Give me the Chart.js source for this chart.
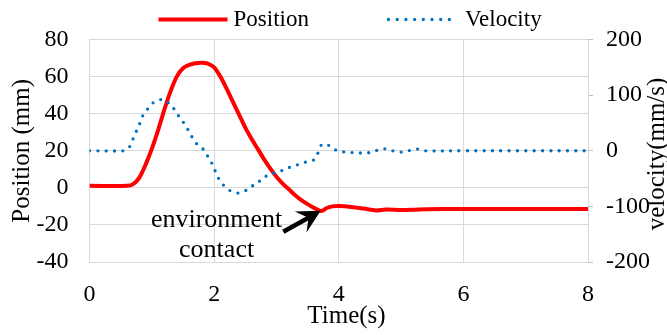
<!DOCTYPE html>
<html>
<head>
<meta charset="utf-8">
<script src="https://cdn.jsdelivr.net/npm/chart.js@4.4.1/dist/chart.umd.min.js"></script>
<style>
  html, body { margin: 0; padding: 0; background: #fff; }
  #wrap { width: 667px; height: 335px; position: relative; }
</style>
</head>
<body>
<div id="wrap"><canvas id="c"></canvas></div>
<script>
// Position of the end effector (mm) against time (s)
const positionTime = [0, 0.6, 0.7, 0.8, 0.9, 1.0, 1.1, 1.2, 1.3, 1.4, 1.5, 1.6, 1.7, 1.8, 1.9, 2.0, 2.1, 2.2, 2.3, 2.4, 2.5, 2.6, 2.7, 2.8, 2.9, 3.0, 3.1, 3.2, 3.3, 3.4, 3.5, 3.6, 3.7, 3.75, 3.8, 3.9, 4.0, 4.2, 4.4, 4.6, 4.75, 4.9, 5.0, 5.2, 5.4, 6.0, 7.0, 8.0];
const positionMm   = [1.1, 1.1, 2.0, 5.5, 12.5, 21, 31, 42, 52, 60, 64.5, 66.3, 67.2, 67.5, 67, 65, 60, 53.5, 46.5, 39.5, 32.5, 26.5, 21, 15.5, 10.5, 6, 2.3, -0.8, -4, -6.6, -8.8, -10.8, -12.4, -12.2, -11, -10, -9.8, -10.3, -11.2, -12.2, -11.7, -11.8, -12, -11.8, -11.5, -11.4, -11.4, -11.4];

// Velocity (mm/s) against time (s)
const velocityTime = [0, 0.55, 0.61, 0.65, 0.70, 0.755, 0.81, 0.86, 0.94, 1.03, 1.16, 1.28, 1.37, 1.44, 1.52, 1.59, 1.66, 1.74, 1.84, 1.91, 1.98, 2.03, 2.09, 2.17, 2.26, 2.37, 2.48, 2.58, 2.68, 2.75, 2.86, 2.97, 3.1, 3.23, 3.36, 3.48, 3.61, 3.67, 3.73, 3.81, 3.92, 4.06, 4.19, 4.33, 4.46, 4.59, 4.72, 4.86, 4.98, 5.12, 5.25, 5.38, 6.0, 7.0, 8.0];
const velocityMms   = [0, 0, 3, 8.5, 21.6, 36, 50, 64, 76, 87, 92, 85, 73, 61, 49, 36, 22, 10, 1, -12.6, -26, -40, -53, -64, -72, -76, -73, -66, -58, -53, -44, -40, -35, -29, -24.5, -20, -15.6, -3, 11.5, 11.5, 3, -1.8, -3, -4, -4, 0, 3.6, 0, -2.4, 0, 3, 0, 0, 0, 0];

const timeTicks = [0, 2, 4, 6, 8];
const positionTicks = [-40, -20, 0, 20, 40, 60, 80];
const velocityTicks = [-200, -100, 0, 100, 200];

const seriesNames = ['Position', 'Velocity'];
const axisTitles = { x: 'Time(s)', y: 'Position (mm)', y1: 'velocity(mm/s)' };
const noteLines = ['environment', 'contact'];

const FONT = 'Liberation Serif';
const RED = '#FF0000';
const BLUE = '#0070C0';
const GRID = '#d9d9d9';

Chart.defaults.font.family = FONT;

const toPoints = (xs, ys) => xs.map((x, i) => ({ x, y: ys[i] }));
const tickFont = { family: FONT, size: 24 };

// Legend, axis titles and the contact note
const decorations = {
  id: 'decorations',
  afterDatasetsDraw(chart) {
    const { ctx } = chart;
    const xs = chart.scales.x, ys = chart.scales.y;
    ctx.save();

    // note text
    ctx.fillStyle = '#000';
    ctx.font = '26px ' + FONT;
    ctx.textAlign = 'center';
    ctx.textBaseline = 'alphabetic';
    ctx.fillText(noteLines[0], xs.getPixelForValue(2.04), ys.getPixelForValue(-21.0));
    ctx.fillText(noteLines[1], xs.getPixelForValue(2.04), ys.getPixelForValue(-37.5));

    // arrow pointing at the contact dip
    const tx = xs.getPixelForValue(3.71), ty = ys.getPixelForValue(-12.4);
    const sx = xs.getPixelForValue(3.11), sy = ys.getPixelForValue(-23.7);
    const dx = tx - sx, dy = ty - sy, len = Math.hypot(dx, dy);
    const ux = dx / len, uy = dy / len, nx = -uy, ny = ux;
    const headLen = 23, headHalf = 12, notch = 14;
    ctx.strokeStyle = '#000';
    ctx.lineWidth = 4.5;
    ctx.lineCap = 'butt';
    ctx.beginPath();
    ctx.moveTo(sx, sy);
    ctx.lineTo(tx - ux * notch, ty - uy * notch);
    ctx.stroke();
    ctx.fillStyle = '#000';
    ctx.beginPath();
    ctx.moveTo(tx, ty);
    ctx.lineTo(tx - ux * headLen + nx * headHalf, ty - uy * headLen + ny * headHalf);
    ctx.lineTo(tx - ux * notch, ty - uy * notch);
    ctx.lineTo(tx - ux * headLen - nx * headHalf, ty - uy * headLen - ny * headHalf);
    ctx.closePath();
    ctx.fill();

    // legend
    const dsP = chart.data.datasets[0], dsV = chart.data.datasets[1];
    ctx.lineWidth = dsP.borderWidth;
    ctx.strokeStyle = dsP.borderColor;
    ctx.beginPath();
    ctx.moveTo(158.5, 19.5);
    ctx.lineTo(227.5, 19.5);
    ctx.stroke();

    ctx.lineWidth = dsV.borderWidth;
    ctx.strokeStyle = dsV.borderColor;
    ctx.lineCap = 'round';
    ctx.setLineDash([0, 8.7]);
    ctx.beginPath();
    ctx.moveTo(388.5, 19.5);
    ctx.lineTo(451, 19.5);
    ctx.stroke();
    ctx.setLineDash([]);

    ctx.fillStyle = '#000';
    ctx.font = '23px ' + FONT;
    ctx.textAlign = 'left';
    ctx.textBaseline = 'middle';
    ctx.fillText(dsP.label, 233.5, 19.5);
    ctx.fillText(dsV.label, 465, 19.5);

    // axis titles
    ctx.font = '25px ' + FONT;
    ctx.textAlign = 'center';
    ctx.textBaseline = 'middle';
    ctx.fillText(axisTitles.x, 346.5, 316.5);

    ctx.save();
    ctx.translate(22.5, 150.8);
    ctx.rotate(-Math.PI / 2);
    ctx.fillText(axisTitles.y, 0, 0);
    ctx.restore();

    ctx.save();
    ctx.translate(657, 154);
    ctx.rotate(-Math.PI / 2);
    ctx.fillText(axisTitles.y1, 0, 0);
    ctx.restore();

    ctx.restore();
  }
};

new Chart(document.getElementById('c'), {
  type: 'line',
  data: {
    datasets: [
      {
        label: seriesNames[0],
        data: toPoints(positionTime, positionMm),
        yAxisID: 'y',
        borderColor: RED,
        borderWidth: 4,
        pointRadius: 0,
        tension: 0.3,
        order: 1
      },
      {
        label: seriesNames[1],
        data: toPoints(velocityTime, velocityMms),
        yAxisID: 'y1',
        borderColor: BLUE,
        borderWidth: 3.3,
        borderDash: [0, 8.35],
        borderCapStyle: 'round',
        pointRadius: 0,
        tension: 0.4,
        order: 0
      }
    ]
  },
  options: {
    responsive: true,
    maintainAspectRatio: false,
    animation: false,
    layout: { padding: { top: 39.5, left: 0, right: 0, bottom: 0 } },
    plugins: { legend: { display: false }, tooltip: { enabled: false } },
    scales: {
      x: {
        type: 'linear',
        position: 'bottom',
        min: timeTicks[0],
        max: timeTicks[timeTicks.length - 1],
        afterBuildTicks: s => { s.ticks = timeTicks.map(v => ({ value: v })); },
        afterFit: s => { s.height = 73; },
        grid: { color: GRID, lineWidth: 1, drawTicks: false },
        border: { display: true, color: GRID, width: 1 },
        ticks: { color: '#000', padding: 18.6, font: tickFont, maxRotation: 0 }
      },
      y: {
        type: 'linear',
        position: 'left',
        min: positionTicks[0],
        max: positionTicks[positionTicks.length - 1],
        afterBuildTicks: s => { s.ticks = positionTicks.map(v => ({ value: v })); },
        afterFit: s => { s.width = 89.5; },
        grid: { color: GRID, lineWidth: 1, drawTicks: false },
        border: { display: true, color: GRID, width: 1 },
        ticks: { color: '#000', padding: 21, font: tickFont }
      },
      y1: {
        type: 'linear',
        position: 'right',
        min: velocityTicks[0],
        max: velocityTicks[velocityTicks.length - 1],
        afterBuildTicks: s => { s.ticks = velocityTicks.map(v => ({ value: v })); },
        afterFit: s => { s.width = 79; },
        grid: { color: '#bfbfbf', lineWidth: 1, drawOnChartArea: false, drawTicks: true, tickLength: 5 },
        border: { display: true, color: GRID, width: 1 },
        ticks: { color: '#000', padding: 13, font: tickFont }
      }
    }
  },
  plugins: [decorations]
});
</script>
</body>
</html>
